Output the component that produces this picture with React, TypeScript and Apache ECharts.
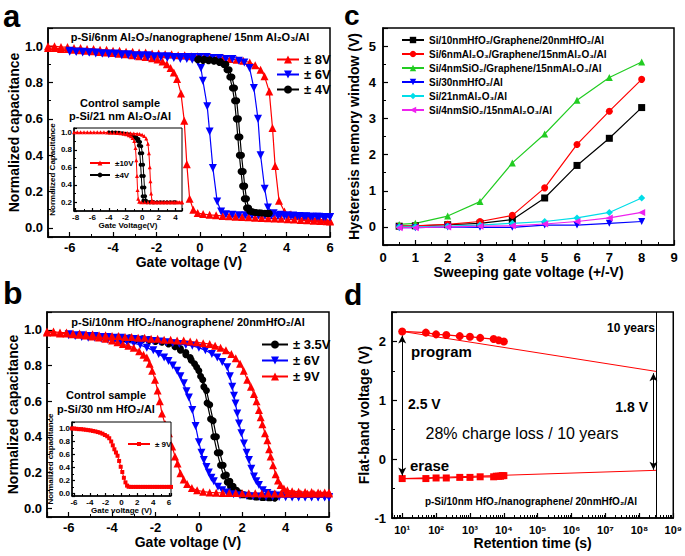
import React, { useEffect, useRef } from 'react';
import * as echarts from 'echarts';

const FONT = 'Arial, "Liberation Sans", Helvetica, sans-serif';
type P = [number, number][];

// ---------- Panel a (p-Si/6nm Al2O3/nanographene/15nm Al2O3/Al) ----------
const A_RED_L: P = [[-7,0.99],[-6.7,0.99],[-6.4,0.985],[-6.1,0.985],[-5.8,0.98],[-5.5,0.978],[-5.2,0.975],[-4.9,0.972],[-4.6,0.968],[-4.3,0.965],[-4.0,0.962],[-3.7,0.958],[-3.4,0.955],[-3.1,0.95],[-2.8,0.945],[-2.5,0.94],[-2.2,0.934],[-1.95,0.926],[-1.72,0.916],[-1.52,0.9],[-1.35,0.88],[-1.2,0.855],[-1.05,0.82],[-0.87,0.74],[-0.72,0.59],[-0.6,0.35],[-0.47,0.16],[-0.3,0.1],[-0.1,0.082],[0.15,0.076],[0.45,0.072],[0.75,0.069],[1.05,0.066],[1.35,0.064],[1.65,0.062],[1.95,0.06],[2.25,0.058],[2.55,0.056],[2.85,0.055],[3.15,0.053],[3.45,0.052],[3.75,0.05],[4.05,0.048],[4.35,0.046],[4.65,0.044],[4.95,0.042],[5.25,0.04],[5.55,0.038],[5.85,0.036],[6,0.035]];
const A_RED_R: P = [[-7,1.0],[-6.7,1.0],[-6.4,0.995],[-6.1,0.995],[-5.8,0.99],[-5.5,0.99],[-5.2,0.985],[-4.9,0.985],[-4.6,0.98],[-4.3,0.98],[-4.0,0.975],[-3.7,0.975],[-3.4,0.97],[-3.1,0.97],[-2.8,0.965],[-2.5,0.965],[-2.2,0.96],[-1.9,0.96],[-1.6,0.955],[-1.3,0.955],[-1.0,0.95],[-0.7,0.95],[-0.4,0.945],[-0.1,0.945],[0.2,0.94],[0.5,0.94],[0.8,0.935],[1.1,0.935],[1.4,0.93],[1.7,0.925],[2.0,0.92],[2.3,0.91],[2.55,0.895],[2.8,0.87],[2.98,0.835],[3.2,0.75],[3.35,0.55],[3.47,0.34],[3.65,0.15],[3.9,0.09],[4.2,0.075],[4.5,0.065],[4.8,0.06],[5.1,0.055],[5.4,0.05],[5.7,0.045],[6.0,0.04]];
const A_BLUE_L: P = [[-6,0.97],[-5.7,0.97],[-5.4,0.965],[-5.1,0.965],[-4.8,0.96],[-4.5,0.96],[-4.2,0.955],[-3.9,0.955],[-3.6,0.95],[-3.3,0.95],[-3.0,0.945],[-2.7,0.945],[-2.4,0.94],[-2.1,0.94],[-1.8,0.94],[-1.5,0.935],[-1.2,0.935],[-0.9,0.93],[-0.6,0.93],[-0.35,0.925],[-0.1,0.915],[0.05,0.88],[0.14,0.81],[0.34,0.67],[0.45,0.53],[0.6,0.33],[0.8,0.145],[0.98,0.09],[1.2,0.075],[1.5,0.072],[1.8,0.07],[2.1,0.07],[2.4,0.07],[2.7,0.068],[3.0,0.068],[3.3,0.067],[3.6,0.066],[3.9,0.065],[4.2,0.065],[4.5,0.064],[4.8,0.063],[5.1,0.062],[5.4,0.061],[5.7,0.06],[6.0,0.06]];
const A_BLUE_R: P = [[-6,0.975],[-5.7,0.97],[-5.4,0.97],[-5.1,0.965],[-4.8,0.965],[-4.5,0.96],[-4.2,0.96],[-3.9,0.96],[-3.6,0.955],[-3.3,0.955],[-3.0,0.95],[-2.7,0.95],[-2.4,0.95],[-2.1,0.945],[-1.8,0.945],[-1.5,0.945],[-1.2,0.94],[-0.9,0.94],[-0.6,0.94],[-0.3,0.94],[0,0.94],[0.3,0.94],[0.6,0.935],[0.9,0.935],[1.2,0.93],[1.5,0.93],[1.8,0.92],[2.05,0.91],[2.29,0.88],[2.49,0.77],[2.68,0.6],[2.8,0.4],[2.99,0.215],[3.14,0.113],[3.4,0.08],[3.7,0.072],[4.0,0.07],[4.3,0.068],[4.6,0.066],[4.9,0.064],[5.2,0.062],[5.5,0.061],[5.8,0.06],[6.0,0.06]];
const A_BLACK_L: P = [[-0.1,0.925],[0.15,0.922],[0.4,0.92],[0.65,0.917],[0.9,0.91],[1.1,0.9],[1.25,0.87],[1.38,0.83],[1.5,0.77],[1.6,0.7],[1.68,0.6],[1.75,0.5],[1.82,0.4],[1.9,0.31],[1.97,0.23],[2.05,0.16],[2.15,0.11],[2.3,0.092],[2.5,0.086],[2.75,0.083],[3.0,0.081],[3.2,0.08]];
const A_BLACK_R: P = [[-0.05,0.93],[0.2,0.928],[0.45,0.925],[0.7,0.922],[0.95,0.915],[1.2,0.9],[1.35,0.87],[1.48,0.83],[1.6,0.77],[1.7,0.7],[1.78,0.6],[1.85,0.5],[1.92,0.4],[2.0,0.31],[2.07,0.23],[2.15,0.16],[2.25,0.11],[2.4,0.09],[2.6,0.085],[2.85,0.082],[3.1,0.08]];

// inset of a (control sample p-Si/21 nm Al2O3/Al)
const AI_RED_L: P = [[-8.2,1.0],[-7.8,1.0],[-7.4,1.0],[-7.0,1.0],[-6.6,1.0],[-6.2,1.0],[-5.8,1.0],[-5.4,1.0],[-5.0,1.0],[-4.6,1.0],[-4.2,0.998],[-3.8,0.997],[-3.4,0.995],[-3.0,0.993],[-2.6,0.99],[-2.2,0.985],[-1.9,0.978],[-1.6,0.968],[-1.35,0.955],[-1.15,0.935],[-0.95,0.9],[-0.8,0.82],[-0.7,0.68],[-0.62,0.5],[-0.55,0.34],[-0.47,0.24],[-0.35,0.205],[-0.1,0.2],[0.3,0.2],[0.7,0.2],[1.1,0.2],[1.5,0.2],[1.9,0.2],[2.3,0.2],[2.7,0.2],[3.1,0.2],[3.5,0.2],[3.9,0.2],[4.3,0.2],[4.8,0.2]];
const AI_RED_R: P = [[-3.0,0.998],[-2.6,0.997],[-2.2,0.995],[-1.8,0.993],[-1.4,0.99],[-1.0,0.988],[-0.6,0.985],[-0.3,0.98],[0,0.972],[0.25,0.958],[0.5,0.93],[0.7,0.87],[0.82,0.76],[0.92,0.6],[1.0,0.44],[1.08,0.3],[1.18,0.22],[1.35,0.2],[1.7,0.2],[2.1,0.2],[2.5,0.2],[2.9,0.2],[3.3,0.2],[3.7,0.2],[4.1,0.2],[4.5,0.2],[4.8,0.2]];
const AI_BLACK_L: P = [[-4,1.0],[-3.6,1.0],[-3.2,0.998],[-2.8,0.995],[-2.4,0.99],[-2.0,0.985],[-1.6,0.975],[-1.3,0.965],[-1.0,0.95],[-0.75,0.93],[-0.55,0.9],[-0.4,0.85],[-0.28,0.76],[-0.18,0.63],[-0.1,0.5],[-0.02,0.37],[0.06,0.27],[0.15,0.22],[0.3,0.205],[0.6,0.2],[1.0,0.2],[1.4,0.2],[1.8,0.2],[2.2,0.2],[2.6,0.2],[3.0,0.2],[3.4,0.2],[3.8,0.2],[4.0,0.2]];
const AI_BLACK_R: P = [[-1.0,0.96],[-0.7,0.945],[-0.45,0.925],[-0.25,0.89],[-0.1,0.84],[0.02,0.76],[0.12,0.63],[0.2,0.5],[0.28,0.37],[0.36,0.27],[0.45,0.22],[0.6,0.205],[0.9,0.2],[1.3,0.2]];

// ---------- Panel b (p-Si/10nm HfO2/nanographene/20nm HfO2/Al) ----------
const B_BLACK_L: P = [[-3.5,0.95],[-3.2,0.95],[-2.9,0.945],[-2.6,0.945],[-2.3,0.94],[-2.0,0.935],[-1.7,0.93],[-1.4,0.92],[-1.1,0.905],[-0.85,0.885],[-0.6,0.86],[-0.35,0.83],[-0.1,0.79],[0.08,0.74],[0.23,0.68],[0.38,0.59],[0.54,0.5],[0.69,0.4],[0.85,0.31],[1.0,0.24],[1.15,0.18],[1.31,0.145],[1.46,0.12],[1.62,0.1],[1.8,0.085],[2.0,0.075],[2.3,0.068],[2.6,0.063],[2.9,0.06],[3.2,0.058],[3.5,0.057]];
const B_BLACK_R: P = [[-3.5,0.955],[-3.2,0.955],[-2.9,0.95],[-2.6,0.95],[-2.3,0.945],[-2.0,0.94],[-1.7,0.935],[-1.4,0.925],[-1.1,0.912],[-0.85,0.895],[-0.6,0.872],[-0.4,0.845],[-0.2,0.81],[0.0,0.77],[0.18,0.72],[0.35,0.66],[0.5,0.58],[0.66,0.49],[0.81,0.4],[0.97,0.31],[1.12,0.24],[1.27,0.185],[1.43,0.15],[1.58,0.122],[1.74,0.1],[1.92,0.085],[2.1,0.075],[2.4,0.067],[2.7,0.062],[3.0,0.06],[3.3,0.058],[3.5,0.057]];
const B_BLUE_L: P = [[-6,0.97],[-5.7,0.965],[-5.4,0.96],[-5.1,0.955],[-4.8,0.955],[-4.5,0.95],[-4.2,0.945],[-3.9,0.94],[-3.6,0.935],[-3.3,0.93],[-3.0,0.925],[-2.7,0.915],[-2.4,0.9],[-2.1,0.885],[-1.85,0.865],[-1.6,0.845],[-1.4,0.825],[-1.2,0.8],[-1.0,0.77],[-0.85,0.74],[-0.69,0.7],[-0.57,0.655],[-0.46,0.62],[-0.3,0.55],[-0.15,0.46],[0.0,0.37],[0.12,0.31],[0.23,0.27],[0.35,0.23],[0.46,0.2],[0.58,0.17],[0.69,0.15],[0.88,0.12],[1.08,0.1],[1.3,0.087],[1.6,0.077],[1.9,0.072],[2.2,0.069],[2.5,0.067],[2.8,0.065],[3.1,0.064],[3.4,0.063],[3.7,0.062],[4.0,0.061],[4.3,0.06],[4.6,0.06],[4.9,0.06],[5.2,0.06],[5.5,0.06],[5.8,0.06],[6.0,0.06]];
const B_BLUE_R: P = [[-6,0.975],[-5.7,0.97],[-5.4,0.97],[-5.1,0.965],[-4.8,0.965],[-4.5,0.96],[-4.2,0.96],[-3.9,0.955],[-3.6,0.955],[-3.3,0.95],[-3.0,0.948],[-2.7,0.945],[-2.4,0.942],[-2.1,0.938],[-1.8,0.935],[-1.5,0.93],[-1.2,0.925],[-0.9,0.92],[-0.6,0.915],[-0.3,0.91],[0,0.9],[0.3,0.885],[0.6,0.865],[0.85,0.845],[1.08,0.82],[1.31,0.79],[1.43,0.74],[1.54,0.68],[1.62,0.63],[1.69,0.587],[1.77,0.53],[1.85,0.475],[1.96,0.42],[2.08,0.363],[2.2,0.31],[2.31,0.27],[2.42,0.22],[2.54,0.177],[2.65,0.15],[2.77,0.13],[2.95,0.1],[3.16,0.084],[3.4,0.075],[3.7,0.07],[4.0,0.068],[4.3,0.066],[4.6,0.065],[4.9,0.064],[5.2,0.063],[5.5,0.062],[5.8,0.062],[6.0,0.062]];
const B_RED_L: P = [[-7,0.985],[-6.7,0.985],[-6.4,0.98],[-6.1,0.98],[-5.8,0.975],[-5.5,0.972],[-5.2,0.968],[-4.9,0.963],[-4.6,0.957],[-4.3,0.95],[-4.0,0.94],[-3.75,0.93],[-3.5,0.92],[-3.25,0.91],[-3.0,0.9],[-2.75,0.88],[-2.55,0.86],[-2.4,0.845],[-2.27,0.81],[-2.15,0.77],[-2.02,0.72],[-1.9,0.66],[-1.8,0.6],[-1.7,0.53],[-1.55,0.47],[-1.38,0.42],[-1.23,0.345],[-1.1,0.29],[-0.98,0.25],[-0.85,0.195],[-0.7,0.16],[-0.54,0.135],[-0.32,0.113],[-0.08,0.1],[0.2,0.092],[0.5,0.088],[0.8,0.086],[1.1,0.085],[1.4,0.084],[1.7,0.084],[2.0,0.083],[2.3,0.083],[2.6,0.083],[2.9,0.082],[3.2,0.082],[3.5,0.082],[3.8,0.082],[4.1,0.082],[4.4,0.082],[4.7,0.082],[5.0,0.082],[5.3,0.082],[5.6,0.082],[6.0,0.082]];
const B_RED_R: P = [[-7,0.99],[-6.7,0.99],[-6.4,0.985],[-6.1,0.985],[-5.8,0.98],[-5.5,0.98],[-5.2,0.975],[-4.9,0.975],[-4.6,0.97],[-4.3,0.97],[-4.0,0.965],[-3.7,0.965],[-3.4,0.96],[-3.1,0.96],[-2.8,0.955],[-2.5,0.955],[-2.2,0.95],[-1.9,0.95],[-1.6,0.945],[-1.3,0.945],[-1.0,0.94],[-0.7,0.94],[-0.4,0.935],[-0.1,0.93],[0.2,0.925],[0.5,0.92],[0.75,0.91],[1.0,0.9],[1.25,0.885],[1.5,0.865],[1.7,0.84],[1.9,0.81],[2.07,0.77],[2.23,0.72],[2.4,0.68],[2.54,0.64],[2.66,0.6],[2.77,0.55],[2.85,0.51],[2.93,0.47],[3.05,0.42],[3.16,0.38],[3.24,0.33],[3.31,0.29],[3.42,0.24],[3.54,0.19],[3.65,0.155],[3.77,0.13],[3.92,0.11],[4.08,0.1],[4.3,0.095],[4.6,0.092],[4.9,0.09],[5.2,0.09],[5.5,0.088],[5.8,0.088],[6.0,0.088]];

// inset of b (control sample p-Si/30 nm HfO2/Al)
const BI_RED: P = [[-6.25,1.0],[-6.0,1.0],[-5.7,0.995],[-5.4,0.99],[-5.1,0.99],[-4.8,0.985],[-4.5,0.98],[-4.2,0.975],[-3.9,0.97],[-3.6,0.962],[-3.3,0.955],[-3.0,0.945],[-2.7,0.935],[-2.4,0.92],[-2.1,0.9],[-1.8,0.88],[-1.55,0.85],[-1.3,0.8],[-1.1,0.74],[-0.9,0.68],[-0.7,0.63],[-0.5,0.58],[-0.3,0.5],[-0.1,0.41],[0.1,0.33],[0.3,0.24],[0.5,0.17],[0.7,0.12],[0.9,0.102],[1.2,0.1],[1.5,0.1],[1.8,0.1],[2.1,0.1],[2.4,0.1],[2.7,0.1],[3.0,0.1],[3.3,0.1],[3.6,0.1],[3.9,0.1],[4.2,0.1],[4.5,0.1],[4.8,0.1],[5.1,0.1],[5.4,0.1],[5.7,0.1],[6.0,0.1],[6.25,0.1]];

// ---------- Panel c ----------
const C_SWEEP = [0.5, 1, 2, 3, 4, 5, 6, 7, 8];
const C_HFO2_G = [0.02, 0.03, 0.06, 0.1, 0.2, 0.8, 1.7, 2.45, 3.3];
const C_AL2O3_G = [0.02, 0.03, 0.07, 0.15, 0.32, 1.08, 2.28, 3.2, 4.08];
const C_SIO2_G = [0.07, 0.1, 0.3, 0.7, 1.77, 2.57, 3.5, 4.13, 4.56];
const C_HFO2 = [-0.02, -0.02, 0.0, -0.01, -0.01, 0.05, 0.05, 0.1, 0.15];
const C_AL2O3 = [0.0, 0.0, 0.02, 0.05, 0.1, 0.15, 0.25, 0.4, 0.8];
const C_SIO2 = [-0.02, -0.02, 0.0, 0.02, 0.03, 0.08, 0.15, 0.25, 0.4];
const C_NAMES = [
  'Si/10nmHfO\u2082/Graphene/20nmHfO\u2082/Al',
  'Si/6nmAl\u2082O\u2083/Graphene/15nmAl\u2082O\u2083/Al',
  'Si/4nmSiO\u2082/Graphene/15nmAl\u2082O\u2083/Al',
  'Si/30nmHfO\u2082/Al',
  'Si/21nmAl\u2082O\u2083/Al',
  'Si/4nmSiO\u2082/15nmAl\u2082O\u2083/Al',
];

// ---------- Panel d ----------
const D_PROG_T = [10, 50, 100, 200, 500, 1000, 2000, 5000, 7000, 10000];
const D_PROG_V = [2.17, 2.15, 2.12, 2.11, 2.09, 2.08, 2.06, 2.04, 2.02, 2.0];
const D_ERASE_T = [10, 50, 100, 200, 500, 1000, 2000, 5000, 6000, 7000, 8000, 9000, 10000];
const D_ERASE_V = [-0.33, -0.33, -0.32, -0.32, -0.31, -0.31, -0.3, -0.3, -0.29, -0.29, -0.29, -0.28, -0.28];
const D_FIT_T = [10, 3.15e8];
const D_PROG_FIT = [2.17, 1.49];
const D_ERASE_FIT = [-0.33, -0.19];
const D_TEN_YEARS = 3.15e8;

const SUP: Record<number, string> = { 0: '\u2070', 1: '\u00B9', 2: '\u00B2', 3: '\u00B3', 4: '\u2074', 5: '\u2075', 6: '\u2076', 7: '\u2077', 8: '\u2078', 9: '\u2079' };
const isMult = (v: number, s: number) => Math.abs(v / s - Math.round(v / s)) < 1e-6;

function axis(grid: number, opt: any, fs: number, extra: any = {}) {
  return {
    type: 'value',
    gridIndex: grid,
    axisLine: { show: true, onZero: false, lineStyle: { color: '#000', width: 1.5 } },
    axisTick: { show: true, inside: true, length: fs > 10 ? 5 : 3, lineStyle: { color: '#000', width: 1.2 } },
    minorTick: { show: true, splitNumber: 2, length: fs > 10 ? 3 : 2, lineStyle: { color: '#000', width: 1 } },
    splitLine: { show: false },
    axisLabel: { color: '#000', fontSize: fs, fontWeight: 'bold', fontFamily: FONT, margin: fs > 10 ? 6 : 3 },
    nameLocation: 'middle',
    nameTextStyle: { color: '#000', fontWeight: 'bold', fontFamily: FONT, fontSize: fs > 10 ? 14 : 8 },
    ...opt,
    ...extra,
  };
}

function curve(name: string, data: any, color: string, symbol: string, rot: number, ax: number, size: number, z = 2) {
  return {
    type: 'line', name, data, xAxisIndex: ax, yAxisIndex: ax,
    symbol, symbolRotate: rot, symbolSize: size,
    itemStyle: { color }, lineStyle: { color, width: size > 5 ? 1.2 : 1 },
    z,
  };
}

function txt(text: string, x: number, y: number, size: number, weight = 'bold', align = 'center', rot = 0) {
  return {
    type: 'text', x, y, rotation: rot, z: 50,
    style: { text, font: `${weight} ${size}px ${FONT}`, fill: '#000', textAlign: align, textVerticalAlign: 'middle', align, verticalAlign: 'middle' },
  };
}

const evenLabel = (v: number) => (isMult(v, 2) ? String(Math.round(v)) : '');
const fifth = (v: number) => (isMult(v, 0.2) ? v.toFixed(1) : '');
const intLabel = (v: number) => (isMult(v, 1) ? String(Math.round(v)) : '');
const lbl = (fs: number, margin: number, formatter: any) => ({ axisLabel: { color: '#000', fontSize: fs, fontWeight: 'bold', fontFamily: FONT, margin, formatter } });

const option: any = {
  animation: false,
  backgroundColor: '#fff',
  textStyle: { fontFamily: FONT },
  grid: [
    { left: 48, top: 28, width: 282, height: 209, show: true, borderColor: '#000', borderWidth: 1.5, backgroundColor: 'transparent' },
    { left: 74, top: 128, width: 108, height: 83, show: true, borderColor: '#000', borderWidth: 1, backgroundColor: '#fff', z: 10 },
    { left: 383, top: 28, width: 291, height: 217, show: true, borderColor: '#000', borderWidth: 1.5 },
    { left: 47, top: 312, width: 282, height: 205, show: true, borderColor: '#000', borderWidth: 1.5, backgroundColor: 'transparent' },
    { left: 72, top: 422, width: 99, height: 74, show: true, borderColor: '#000', borderWidth: 1, backgroundColor: '#fff', z: 10 },
    { left: 392, top: 312, width: 282, height: 206, show: true, borderColor: '#000', borderWidth: 1.5 },
  ],
  xAxis: [
    axis(0, { min: -7, max: 6, splitNumber: 6, name: 'Gate voltage (V)', nameGap: 7 }, 13, lbl(13, 4, evenLabel)),
    axis(1, { min: -8.2, max: 4.8, splitNumber: 7, name: 'Gate Voltage(V)', nameGap: 10, z: 11 }, 8, lbl(8, 2, evenLabel)),
    axis(2, { min: 0, max: 9, interval: 1, name: 'Sweeping gate voltage (+/-V)', nameGap: 17 }, 13, lbl(13, 6, intLabel)),
    axis(3, { min: -7, max: 6, splitNumber: 6, name: 'Gate voltage (V)', nameGap: 5 }, 13, lbl(13, 4, evenLabel)),
    axis(4, { min: -6.25, max: 6.25, splitNumber: 6, name: 'Gate voltage (V)', nameGap: 10, z: 11 }, 8, lbl(8, 2, evenLabel)),
    axis(5, { type: 'log', logBase: 10, min: 5, max: 1e9, name: 'Retention time (s)', nameGap: 8 }, 11, {
      minorTick: { show: true, splitNumber: 9, length: 3, lineStyle: { color: '#000', width: 1 } },
      ...lbl(11, 6, (v: number) => { const e = Math.log10(v); return isMult(e, 1) ? '10' + SUP[Math.round(e)] : ''; }),
    }),
  ],
  yAxis: [
    axis(0, { min: -0.05, max: 1.1, splitNumber: 6, name: 'Normalized capacitance', nameGap: 25 }, 13, lbl(13, 5, fifth)),
    axis(1, { min: 0.1, max: 1.05, splitNumber: 5, name: 'Normalized Capacitance', nameGap: 16, z: 11 }, 8, lbl(8, 2, fifth)),
    axis(2, { min: -0.5, max: 5.5, splitNumber: 6, name: 'Hysteresis memory window (V)', nameGap: 22 }, 13, lbl(13, 7, intLabel)),
    axis(3, { min: -0.05, max: 1.1, splitNumber: 6, name: 'Normalized capacitance', nameGap: 25 }, 13, lbl(13, 5, fifth)),
    axis(4, { min: -0.04, max: 1.1, splitNumber: 6, name: 'Normalized capacitance', nameGap: 16, z: 11 }, 8, lbl(8, 2, fifth)),
    axis(5, { min: -1, max: 2.5, interval: 1, name: 'Flat-band voltage (V)', nameGap: 13 }, 13, lbl(13, 6, intLabel)),
  ],
  legend: [
    { data: ['\u00B1 8V', '\u00B1 6V', '\u00B1 4V'], orient: 'vertical', left: 271, top: 48, itemWidth: 22, itemHeight: 10, itemGap: 2, textStyle: { fontSize: 13, fontWeight: 'bold', color: '#000', fontFamily: FONT } },
    { data: ['\u00B110V', '\u00B14V'], orient: 'vertical', left: 84, top: 154, itemWidth: 20, itemHeight: 6, itemGap: 4, z: 12, textStyle: { fontSize: 8, fontWeight: 'bold', color: '#000', fontFamily: FONT } },
    { data: C_NAMES, orient: 'vertical', left: 396, top: 30, itemWidth: 22, itemHeight: 8, itemGap: 4, textStyle: { fontSize: 10, fontWeight: 'bold', color: '#000', fontFamily: FONT } },
    { data: ['\u00B1 3.5V', '\u00B1 6V ', '\u00B1 9V'], orient: 'vertical', left: 256, top: 333, itemWidth: 26, itemHeight: 10, itemGap: 3, textStyle: { fontSize: 13, fontWeight: 'bold', color: '#000', fontFamily: FONT } },
    { data: ['\u00B1\u00A09V'], orient: 'vertical', left: 122, top: 435, itemWidth: 22, itemHeight: 5, z: 12, textStyle: { fontSize: 8, fontWeight: 'bold', color: '#000', fontFamily: FONT } },
  ],
  series: [
    // a
    curve('\u00B1 8V', A_RED_L, '#ff0000', 'triangle', 0, 0, 8),
    curve('\u00B1 8V', A_RED_R, '#ff0000', 'triangle', 0, 0, 8),
    curve('\u00B1 6V', A_BLUE_L, '#0000ff', 'triangle', 180, 0, 8),
    curve('\u00B1 6V', A_BLUE_R, '#0000ff', 'triangle', 180, 0, 8),
    curve('\u00B1 4V', A_BLACK_L, '#000000', 'circle', 0, 0, 7),
    curve('\u00B1 4V', A_BLACK_R, '#000000', 'circle', 0, 0, 7),
    // a inset
    curve('\u00B14V', AI_BLACK_L, '#000000', 'circle', 0, 1, 4, 12),
    curve('\u00B14V', AI_BLACK_R, '#000000', 'circle', 0, 1, 4, 12),
    curve('\u00B110V', AI_RED_L, '#ff0000', 'triangle', 0, 1, 4, 12),
    curve('\u00B110V', AI_RED_R, '#ff0000', 'triangle', 0, 1, 4, 12),
    // c
    ...[
      [C_HFO2_G, '#000000', 'rect', 0],
      [C_AL2O3_G, '#ff0000', 'circle', 0],
      [C_SIO2_G, '#22cc22', 'triangle', 0],
      [C_HFO2, '#0000ff', 'triangle', 180],
      [C_AL2O3, '#00dde8', 'diamond', 0],
      [C_SIO2, '#ee22ee', 'triangle', 90],
    ].map((s: any, i) => curve(C_NAMES[i], C_SWEEP.map((x, j) => [x, s[0][j]]), s[1], s[2], s[3], 2, 7)),
    // b
    curve('\u00B1 3.5V', B_BLACK_L, '#000000', 'circle', 0, 3, 7),
    curve('\u00B1 3.5V', B_BLACK_R, '#000000', 'circle', 0, 3, 7),
    curve('\u00B1 6V ', B_BLUE_L, '#0000ff', 'triangle', 180, 3, 8),
    curve('\u00B1 6V ', B_BLUE_R, '#0000ff', 'triangle', 180, 3, 8),
    curve('\u00B1 9V', B_RED_L, '#ff0000', 'triangle', 0, 3, 8),
    curve('\u00B1 9V', B_RED_R, '#ff0000', 'triangle', 0, 3, 8),
    // b inset
    curve('\u00B1\u00A09V', BI_RED, '#ff0000', 'rect', 0, 4, 4, 12),
    // d
    {
      type: 'line', name: 'program fit', xAxisIndex: 5, yAxisIndex: 5, symbol: 'none',
      data: D_FIT_T.map((t, i) => [t, D_PROG_FIT[i]]), lineStyle: { color: '#ff0000', width: 1 }, z: 3,
      markLine: { silent: true, symbol: 'none', label: { show: false }, lineStyle: { color: '#000', width: 1, type: 'solid' }, data: [{ xAxis: D_TEN_YEARS }] },
    },
    {
      type: 'line', name: 'erase fit', xAxisIndex: 5, yAxisIndex: 5, symbol: 'none',
      data: D_FIT_T.map((t, i) => [t, D_ERASE_FIT[i]]), lineStyle: { color: '#ff0000', width: 1 }, z: 3,
      markLine: {
        silent: true, symbol: ['arrow', 'arrow'], symbolSize: [6, 8], label: { show: false },
        lineStyle: { color: '#000', width: 1, type: 'solid' },
        data: [
          [{ coord: [10, 2.1] }, { coord: [10, -0.28] }],
          [{ coord: [2.6e8, 1.46] }, { coord: [2.6e8, -0.18] }],
        ],
      },
    },
    curve('program', D_PROG_T.map((t, i) => [t, D_PROG_V[i]]), '#ff0000', 'circle', 0, 5, 8, 4),
    curve('erase', D_ERASE_T.map((t, i) => [t, D_ERASE_V[i]]), '#ff0000', 'rect', 0, 5, 7, 4),
  ],
  graphic: [
    txt('a', 3, 16, 31, 'bold', 'left'),
    txt('b', 3, 293, 32, 'bold', 'left'),
    txt('c', 344, 15, 28, 'bold', 'left'),
    txt('d', 344, 294, 30, 'bold', 'left'),
    txt('p-Si/6nm Al\u2082O\u2083/nanographene/ 15nm Al\u2082O\u2083/Al', 190, 37, 11),
    txt('Control sample', 120, 103, 11),
    txt('p-Si/21 nm Al\u2082O\u2083/Al', 120, 116, 11),
    txt('p-Si/10nm HfO\u2082/nanographene/ 20nmHfO\u2082/Al', 188, 322, 11),
    txt('Control sample', 106, 395, 11),
    txt('p-Si/30 nm HfO\u2082/Al', 106, 409, 11),
    txt('10 years', 655, 328, 12, 'bold', 'right'),
    txt('program', 411, 351, 15, 'bold', 'left'),
    txt('2.5 V', 408, 404, 14, 'bold', 'left'),
    txt('1.8 V', 648, 407, 14, 'bold', 'right'),
    txt('28% charge loss / 10 years', 522, 433, 16, 'normal'),
    txt('erase', 410, 465, 15, 'bold', 'left'),
    txt('p-Si/10nm HfO\u2082/nanographene/ 20nmHfO\u2082/Al', 531, 501, 10),
  ],
};

export default function App() {
  const ref = useRef<HTMLDivElement>(null);
  useEffect(() => {
    const chart = echarts.init(ref.current!, null, { renderer: 'svg' });
    chart.setOption(option);
    return () => chart.dispose();
  }, []);
  return <div ref={ref} style={{ position: 'absolute', left: 0, top: 0, width: 685, height: 556, background: '#fff' }} />;
}
